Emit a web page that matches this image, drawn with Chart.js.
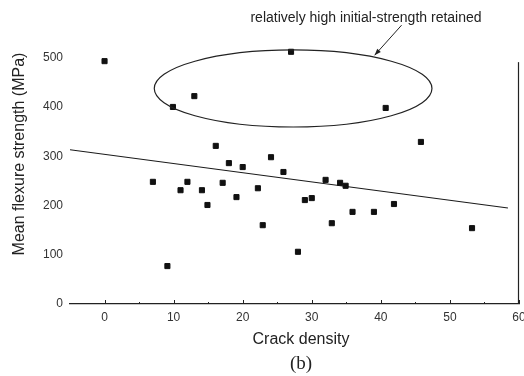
<!DOCTYPE html>
<html lang="en">
<head>
    <meta charset="UTF-8">
    <title>Crack density vs flexure strength</title>
    <script src="https://cdn.jsdelivr.net/npm/chart.js@4/dist/chart.umd.min.js"></script>
    <style>
        html, body { margin: 0; padding: 0; background: #fff; }
        #wrap { width: 524px; height: 376px; }
    </style>
</head>
<body>
<div id="wrap">
    <canvas id="flexure" width="524" height="376"></canvas>
</div>
<script>
    // values
    var crackDensity = [0, 27.0, 9.9, 13.0, 40.7,
        16.1, 45.8, 18.0, 20.0, 24.1, 25.9, 7.0, 11.0, 12.0, 14.1, 17.1, 19.1, 22.2, 14.9,
        32.0, 34.1, 34.9, 29.0, 30.0, 35.9, 39.0, 41.9, 22.9, 32.9, 53.2,
        9.1, 28.0];
    var flexureStrength = [493, 512, 400, 422, 398,
        321, 329, 286, 278, 298, 268, 248, 231, 248, 231, 246, 217, 235, 201,
        252, 246, 240, 211, 215, 187, 187, 203, 160, 164, 154,
        77, 106];

    // linear fit drawn across the plot
    var fitX = [-5, 58.4];
    var fitY = [313, 195];

    var xTickLabels = [0, 10, 20, 30, 40, 50, 60];
    var xMinorTicks = [5, 15, 25, 35, 45, 55];
    var yTickLabels = [0, 100, 200, 300, 400, 500];

    // annotation (data units)
    var ellipseCenter = [27.3, 437.5];
    var ellipseRadius = [20.1, 78.2];
    var arrowFrom = [43.0, 566];
    var arrowTo = [39.1, 505];
    var noteText = 'relatively high initial-strength retained';

    var points = crackDensity.map(function (x, i) {
        return {x: x, y: flexureStrength[i]};
    });
    var fitLine = fitX.map(function (x, i) {
        return {x: x, y: fitY[i]};
    });

    var decor = {
        id: 'decor',
        afterDraw: function (chart) {
            var ctx = chart.ctx;
            var xs = chart.scales.x, ys = chart.scales.y;
            var area = chart.chartArea;
            ctx.save();

            // right axis line
            ctx.strokeStyle = '#222';
            ctx.lineWidth = 1.2;
            ctx.beginPath();
            ctx.moveTo(area.right - 0.5, ys.getPixelForValue(491));
            ctx.lineTo(area.right - 0.5, area.bottom);
            ctx.stroke();

            // inward ticks on the bottom axis
            ctx.lineWidth = 1;
            ctx.beginPath();
            xTickLabels.forEach(function (v) {
                var px = Math.round(xs.getPixelForValue(v)) + 0.5;
                ctx.moveTo(px, area.bottom);
                ctx.lineTo(px, area.bottom - 4);
            });
            xMinorTicks.forEach(function (v) {
                var px = Math.round(xs.getPixelForValue(v)) + 0.5;
                ctx.moveTo(px, area.bottom);
                ctx.lineTo(px, area.bottom - 2);
            });
            ctx.stroke();

            // ellipse around the retained-strength points
            var cx = xs.getPixelForValue(ellipseCenter[0]);
            var cy = ys.getPixelForValue(ellipseCenter[1]);
            var rx = Math.abs(xs.getPixelForValue(ellipseCenter[0] + ellipseRadius[0]) - cx);
            var ry = Math.abs(ys.getPixelForValue(ellipseCenter[1] + ellipseRadius[1]) - cy);
            ctx.lineWidth = 1.2;
            ctx.beginPath();
            ctx.ellipse(cx, cy, rx, ry, 0, 0, Math.PI * 2);
            ctx.stroke();

            // arrow from the note to the ellipse
            var ax = xs.getPixelForValue(arrowFrom[0]), ay = ys.getPixelForValue(arrowFrom[1]);
            var bx = xs.getPixelForValue(arrowTo[0]), by = ys.getPixelForValue(arrowTo[1]);
            ctx.lineWidth = 1;
            ctx.beginPath();
            ctx.moveTo(ax, ay);
            ctx.lineTo(bx, by);
            ctx.stroke();
            var ang = Math.atan2(by - ay, bx - ax);
            ctx.fillStyle = '#222';
            ctx.beginPath();
            ctx.moveTo(bx, by);
            ctx.lineTo(bx - 7 * Math.cos(ang - 0.35), by - 7 * Math.sin(ang - 0.35));
            ctx.lineTo(bx - 7 * Math.cos(ang + 0.35), by - 7 * Math.sin(ang + 0.35));
            ctx.closePath();
            ctx.fill();

            // texts
            ctx.fillStyle = '#222';
            ctx.textAlign = 'center';
            ctx.textBaseline = 'middle';
            ctx.font = '14px "Liberation Sans", Arial, sans-serif';
            ctx.fillText(noteText, 366, 18);

            ctx.font = '16px "Liberation Sans", Arial, sans-serif';
            ctx.fillText('Crack density', 301, 340);

            ctx.font = '19px "Liberation Serif", "Times New Roman", serif';
            ctx.fillText('(b)', 301, 364);

            ctx.translate(20, 154);
            ctx.rotate(-Math.PI / 2);
            ctx.font = '16px "Liberation Sans", Arial, sans-serif';
            ctx.fillText('Mean flexure strength (MPa)', 0, 0);
            ctx.restore();
        }
    };

    var flexure = document.getElementById('flexure').getContext('2d');
    var flexureChart = new Chart(flexure, {
        type: 'scatter',
        data: {
            datasets: [{
                label: 'Samples',
                data: points,
                pointStyle: 'rect',
                pointRadius: 3.6,
                pointBorderWidth: 1,
                backgroundColor: '#111',
                borderColor: '#111'
            }, {
                type: 'line',
                label: 'Fit',
                data: fitLine,
                showLine: true,
                pointRadius: 0,
                borderWidth: 1.1,
                borderColor: '#1a1a1a',
                fill: false
            }]
        },
        options: {
            responsive: false,
            animation: false,
            events: [],
            layout: {padding: {top: 38, right: 5, bottom: 0, left: 0}},
            plugins: {
                legend: {display: false},
                tooltip: {enabled: false}
            },
            scales: {
                x: {
                    type: 'linear',
                    min: -5,
                    max: 60,
                    afterBuildTicks: function (scale) {
                        scale.ticks = xTickLabels.map(function (v) { return {value: v}; });
                    },
                    afterFit: function (scale) {
                        scale.height = 72;
                        scale.paddingLeft = 0;
                        scale.paddingRight = 0;
                    },
                    grid: {display: true, drawOnChartArea: false, drawTicks: false},
                    border: {display: true, color: '#222', width: 1.2},
                    ticks: {
                        padding: 6,
                        maxRotation: 0,
                        color: '#333',
                        font: {family: '"Liberation Sans", Arial, sans-serif', size: 12}
                    }
                },
                y: {
                    min: 0,
                    max: 540,
                    afterBuildTicks: function (scale) {
                        scale.ticks = yTickLabels.map(function (v) { return {value: v}; });
                    },
                    afterFit: function (scale) {
                        scale.width = 70;
                    },
                    grid: {display: false, drawTicks: false},
                    border: {display: false},
                    ticks: {
                        padding: 7,
                        color: '#333',
                        font: {family: '"Liberation Sans", Arial, sans-serif', size: 12}
                    }
                }
            }
        },
        plugins: [decor]
    });
</script>
</body>
</html>
